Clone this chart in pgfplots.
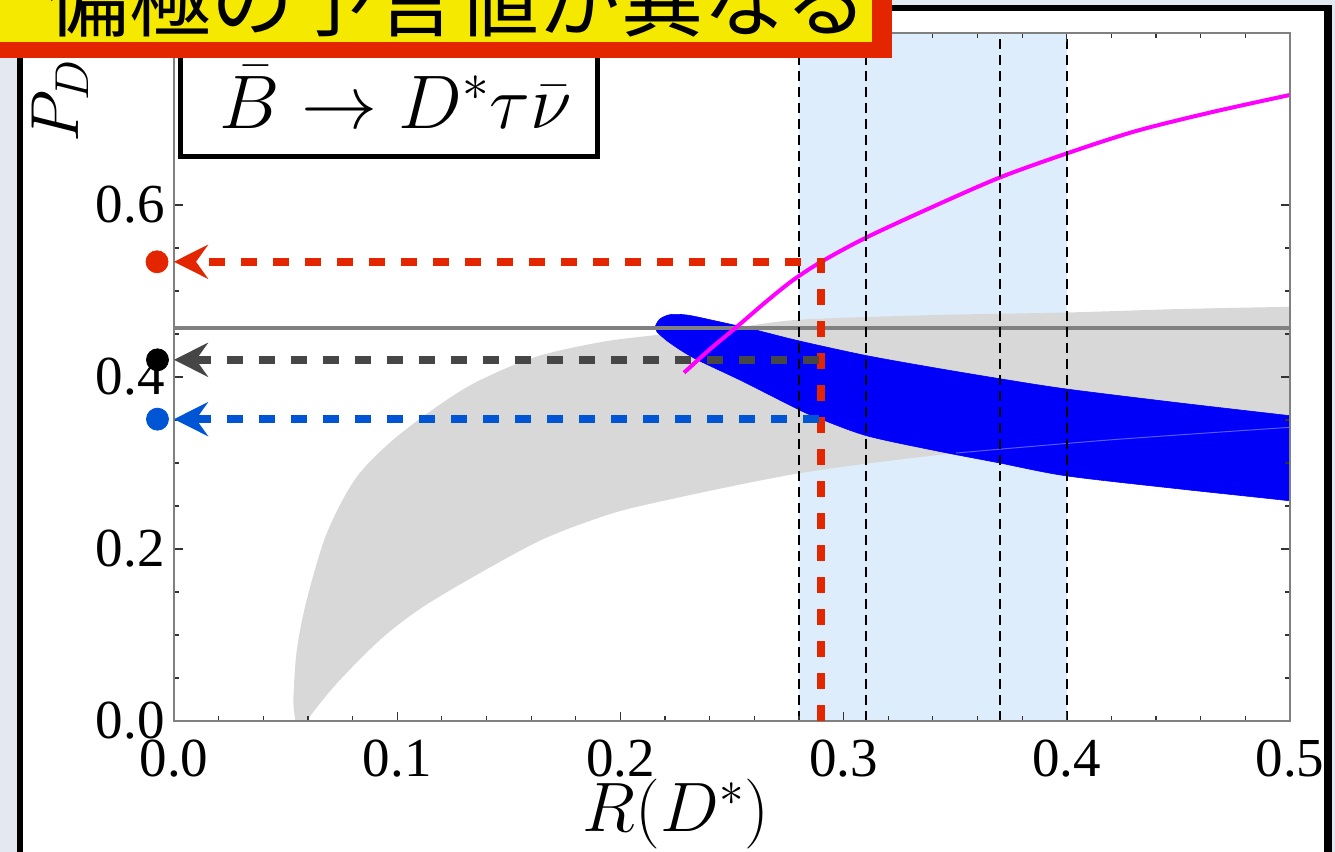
\RequirePackage{fix-cm}
\documentclass[border=0pt]{standalone}
\usepackage{pgfplots}
\pgfplotsset{compat=1.18}
\usepackage{fontspec}
\setmainfont{Liberation Serif}
\newfontfamily\cjk{Noto Sans CJK JP}
\usetikzlibrary{arrows.meta}

\definecolor{bandblue}{RGB}{221,237,252}
\definecolor{bandgray}{RGB}{216,216,216}
\definecolor{regblue}{RGB}{0,0,250}
\definecolor{faintblue}{RGB}{90,90,255}
\definecolor{linegray}{RGB}{128,128,128}
\definecolor{pdred}{RGB}{228,38,0}
\definecolor{pdgray}{RGB}{70,70,70}
\definecolor{pdblue}{RGB}{0,85,213}
\definecolor{slidebg}{RGB}{226,233,241}
\definecolor{banneryellow}{RGB}{245,233,0}
\definecolor{magentaline}{RGB}{255,0,255}

\pgfplotsset{
  pdframe/.style={
    at={(87pt,-360.5pt)}, anchor=south west,
    scale only axis, width=558pt, height=344pt,
    xmin=0, xmax=0.5, ymin=0, ymax=0.8,
  },
}

\begin{document}
\begin{tikzpicture}
\useasboundingbox (0,0) rectangle (667.5pt,-426pt);
\clip (0,0) rectangle (667.5pt,-426pt);

% slide background and the black frame
\begin{scope}[x=0.5pt,y=-0.5pt]
  \fill[slidebg] (0,0) rectangle (1335,852);
  \fill[white] (20,8) rectangle (1328,860);
  \fill[black] (17,5) rectangle (23,860);
  \fill[black] (17,5) rectangle (1332,11);
  \fill[black] (1324,5) rectangle (1332,860);
\end{scope}

% main plot
\begin{axis}[
  pdframe,
  axis on top,
  axis line style={black!50, line width=0.9pt},
  tick style={black!80, line width=0.6pt},
  tick align=inside,
  major tick length=4.5pt, minor tick length=2.5pt,
  xtick={0,0.1,0.2,0.3,0.4,0.5},
  ytick={0,0.2,0.4,0.6},
  minor x tick num=4, minor y tick num=3,
  /pgf/number format/.cd, fixed, fixed zerofill, precision=1, assume math mode=true,
  /pgfplots/.cd,
  xticklabel style={font=\fontsize{27.5}{30}\selectfont, inner sep=0pt, yshift=-9.5pt},
  yticklabel style={font=\fontsize{27.5}{30}\selectfont, inner sep=0pt, xshift=-4.5pt},
]
  % 1 sigma band of the measurement
  \addplot[draw=none, fill=bandblue] coordinates {(0.28,0) (0.28,0.8) (0.40,0.8) (0.40,0)} -- cycle;

  % allowed region, gray
  \addplot[draw=none, fill=bandgray, smooth] coordinates {
    (0.0545,0.0) (0.0535,0.024) (0.0550,0.082) (0.0594,0.140) (0.0684,0.218)
    (0.0818,0.2835) (0.1013,0.3337) (0.1311,0.388) (0.161,0.4225) (0.19,0.440)
    (0.2133,0.448) (0.25,0.457) (0.28,0.4666) (0.34,0.472) (0.40,0.475)
    (0.45,0.479) (0.5,0.4816) (0.52,0.482)
    (0.52,0.345) (0.5,0.3415) (0.42,0.327) (0.3504,0.3116) (0.28,0.288)
    (0.2133,0.2526) (0.19,0.236) (0.161,0.206) (0.1162,0.1404) (0.0938,0.0978)
    (0.0729,0.0437) (0.0594,0.0) (0.0585,-0.01) (0.0555,-0.01)} -- cycle;

  % allowed region, blue
  \addplot[draw=regblue, line width=0.3pt, fill=regblue, smooth] coordinates {
    (0.2155,0.458) (0.2175,0.467) (0.2222,0.4725) (0.23,0.472) (0.243,0.465)
    (0.26,0.455) (0.28,0.442) (0.31,0.425) (0.34,0.411) (0.37,0.398)
    (0.40,0.386) (0.45,0.370) (0.5,0.355) (0.52,0.349)
    (0.52,0.249) (0.5,0.256) (0.45,0.270) (0.40,0.285) (0.37,0.300)
    (0.34,0.315) (0.31,0.332) (0.288,0.353) (0.28,0.362) (0.254,0.396)
    (0.233,0.422) (0.222,0.440) (0.2165,0.452)} -- cycle;

  % lower edge of the gray region seen through the blue one
  \addplot[faintblue, line width=0.5pt, smooth] coordinates {(0.3504,0.3116) (0.42,0.327) (0.5,0.3415)};

  % Standard Model value
  \addplot[linegray, line width=1.9pt] coordinates {(0,0.457) (0.5,0.457)};

  % magenta curve
  \addplot[magentaline, line width=2pt, smooth] coordinates {
    (0.2285,0.405) (0.24,0.432) (0.252,0.458) (0.265,0.487) (0.277,0.512)
    (0.29,0.534) (0.31,0.562) (0.34,0.598) (0.37,0.632) (0.40,0.660)
    (0.431,0.686) (0.465,0.708) (0.5,0.728)};

  % experimental ranges
  \addplot[black, line width=1.1pt, dash pattern=on 5pt off 3pt] coordinates {(0.28,0) (0.28,0.8)};
  \addplot[black, line width=1.1pt, dash pattern=on 5pt off 3pt] coordinates {(0.31,0) (0.31,0.8)};
  \addplot[black, line width=1.1pt, dash pattern=on 5pt off 3pt] coordinates {(0.37,0) (0.37,0.8)};
  \addplot[black, line width=1.1pt, dash pattern=on 5pt off 3pt] coordinates {(0.40,0) (0.40,0.8)};
\end{axis}

% read-off arrows and their end points
\begin{axis}[pdframe, hide axis, clip=false]
  \addplot[pdred, line width=4pt, dash pattern=on 8pt off 8pt,
    -{Stealth[length=17pt, width=17pt, inset=6pt]}]
    coordinates {(0.29,0) (0.29,0.534) (0,0.534)};
  \addplot[pdgray, line width=4pt, dash pattern=on 8pt off 8pt,
    -{Stealth[length=17pt, width=17pt, inset=6pt]}]
    coordinates {(0.289,0.420) (0,0.420)};
  \addplot[pdblue, line width=4pt, dash pattern=on 8pt off 8pt,
    -{Stealth[length=17pt, width=17pt, inset=6pt]}]
    coordinates {(0.289,0.351) (0,0.351)};
  \addplot[only marks, mark=*, mark size=5.5pt, pdred] coordinates {(-0.0076,0.534)};
  \addplot[only marks, mark=*, mark size=5.5pt, black] coordinates {(-0.0074,0.420)};
  \addplot[only marks, mark=*, mark size=5.5pt, pdblue] coordinates {(-0.0074,0.351)};
\end{axis}

\begin{scope}[x=0.5pt,y=-0.5pt]
  % axis labels
  \node[rotate=90] at (60,101) {\fontsize{34}{40}\selectfont $P_D$};
  \node[anchor=base] at (676,831) {\fontsize{35}{40}\selectfont $R(D^{*})$};
  % process label
  \draw[fill=white, line width=2.5pt] (180,20) rectangle (597,156);
  \node[anchor=base] at (396,128) {\fontsize{38}{42}\selectfont $\bar{B}\to D^{*}\tau\bar{\nu}$};
  % banner
  \fill[pdred] (-20,-20) rectangle (892,58);
  \fill[banneryellow] (-20,-20) rectangle (872,42);
  \node[anchor=base east, inner sep=0pt] at (868,30) {\cjk\fontsize{41}{45}\selectfont 偏極の予言値が異なる};
\end{scope}
\end{tikzpicture}
\end{document}
